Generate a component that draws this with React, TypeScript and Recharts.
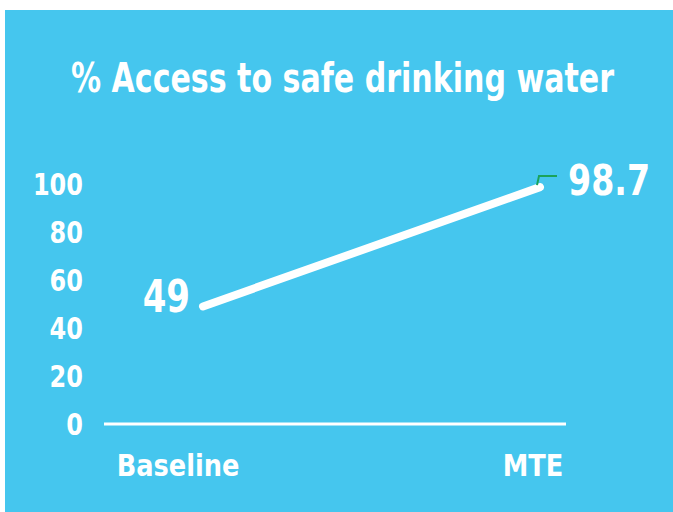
import React, { useLayoutEffect, useRef, useState } from 'react';
import { LineChart, Line, XAxis, YAxis, LabelList } from 'recharts';

const categories = ['Baseline', 'MTE'];
const accessValues = [49, 98.7];
const yTicks = [0, 20, 40, 60, 80, 100];

const chartData = categories.map((name, i) => ({ name, value: accessValues[i] }));

const FONT = "'DejaVu Sans Condensed', 'DejaVu Sans', sans-serif";
const BG = '#45C6EE';

// condensed look: draw the text at its height and squeeze it sideways
const CondText = ({ x, y, sx, size, anchor = 'start', children }: any) => (
  <text
    transform={`translate(${x},${y}) scale(${sx},1)`}
    textAnchor={anchor}
    fill="#fff"
    fontFamily={FONT}
    fontWeight="bold"
    fontSize={size}
  >
    {children}
  </text>
);

const Title = () => {
  const ref = useRef<SVGTextElement>(null);
  const [sx, setSx] = useState(0.75);
  useLayoutEffect(() => {
    if (ref.current) {
      const w = ref.current.getBBox().width;
      if (w > 0) setSx(543 / w);
    }
  }, []);
  return (
    <svg width={668} height={120} style={{ position: 'absolute', left: 0, top: 0 }}>
      <text
        ref={ref}
        transform={`translate(66,82) scale(${sx},1)`}
        fill="#fff"
        fontFamily={FONT}
        fontWeight="bold"
        fontSize={41}
      >
        % Access to safe drinking water
      </text>
    </svg>
  );
};

// x tick labels sit a bit left of their points in the original
const XTick = (props: any) => {
  const { x, y, payload, index } = props;
  const dx = index === 0 ? -25 : -7;
  return (
    <CondText x={x + dx} y={y + 44} sx={0.92} size={31} anchor="middle">
      {payload.value}
    </CondText>
  );
};

const YTick = (props: any) => {
  const { x, y, payload } = props;
  return (
    <CondText x={x} y={y + 11} sx={0.86} size={31} anchor="end">
      {payload.value}
    </CondText>
  );
};

const ValueLabel = (props: any) => {
  const { x, y, value, index } = props;
  if (index === 0) {
    return (
      <CondText x={x - 13} y={y + 6} sx={0.84} size={45} anchor="end">
        {value}
      </CondText>
    );
  }
  return (
    <g>
      <polyline
        points={`${x - 3},${y - 2} ${x - 1},${y - 11} ${x + 17},${y - 11}`}
        fill="none"
        stroke="#1BA35A"
        strokeWidth={2}
      />
      <CondText x={x + 28} y={y + 8} sx={0.86} size={43}>
        {value}
      </CondText>
    </g>
  );
};

export default function App() {
  return (
    <div style={{ position: 'absolute', left: 5, top: 10, width: 668, height: 502, background: BG }}>
      <Title />
      <div style={{ position: 'absolute', left: 0, top: 0 }}>
        <LineChart width={668} height={502} data={chartData} margin={{ top: 174, right: 107, bottom: 0, left: 0 }}>
          <XAxis
            dataKey="name"
            height={88}
            padding={{ left: 99, right: 26 }}
            axisLine={{ stroke: '#fff', strokeWidth: 3 }}
            tickLine={false}
            tick={<XTick />}
            interval={0}
          />
          <YAxis
            width={99}
            domain={[0, 100]}
            ticks={yTicks}
            axisLine={false}
            tickLine={false}
            tickMargin={15}
            tick={<YTick />}
          />
          <Line
            dataKey="value"
            stroke="#fff"
            strokeWidth={8}
            strokeLinecap="round"
            dot={false}
            activeDot={false}
            isAnimationActive={false}
          >
            <LabelList dataKey="value" content={<ValueLabel />} />
          </Line>
        </LineChart>
      </div>
    </div>
  );
}
